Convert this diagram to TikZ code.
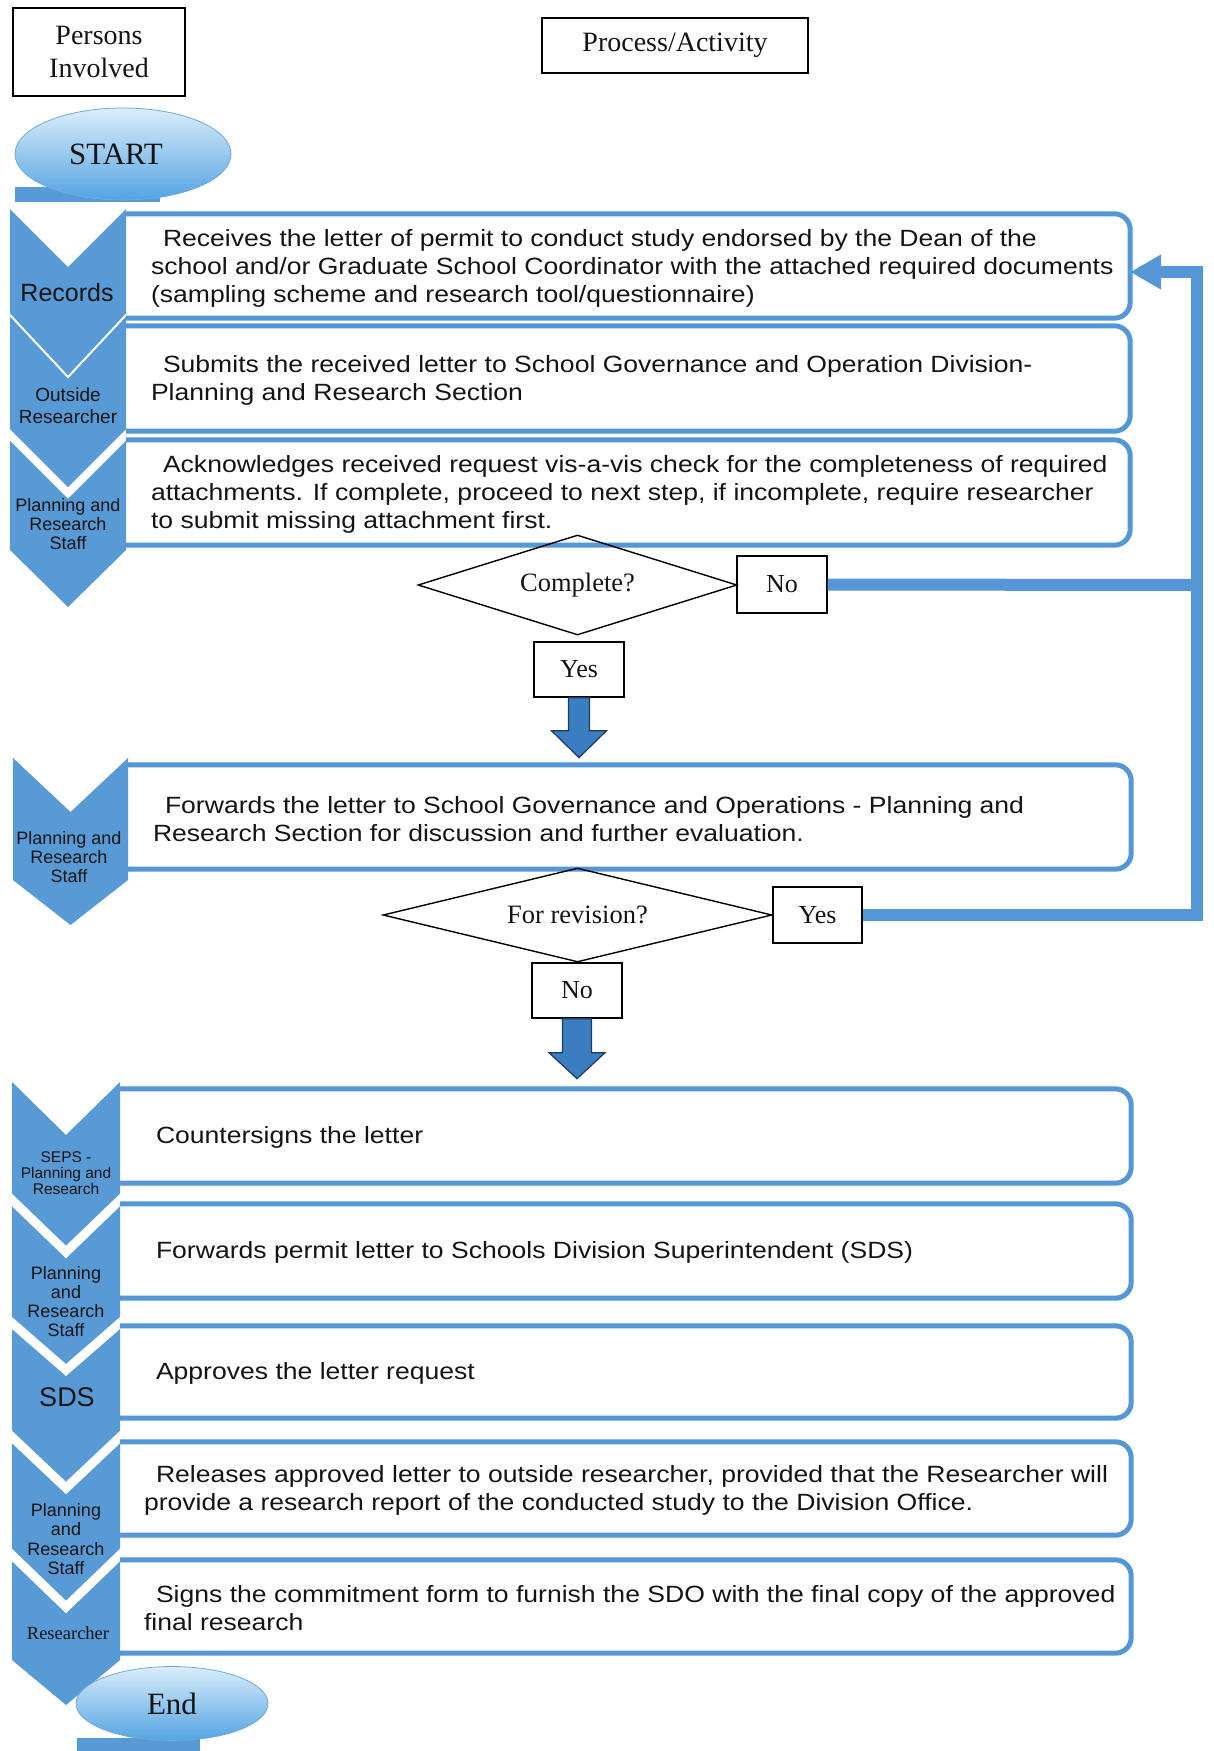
\documentclass[tikz,border=0pt]{standalone}
\usepackage{fontspec}
\setmainfont{Liberation Serif}
\newfontfamily\arialfam{Liberation Sans}
\newfontfamily\arialwide[FakeStretch=1.13]{Liberation Sans}
\usetikzlibrary{shapes.geometric,arrows.meta,calc}
\definecolor{chev}{RGB}{88,154,214}
\definecolor{bline}{RGB}{84,150,214}
\definecolor{barrow}{RGB}{58,125,192}
\definecolor{barrowline}{RGB}{28,58,98}
\definecolor{elltop}{RGB}{218,238,251}
\definecolor{ellbot}{RGB}{84,163,226}
\definecolor{ellline}{RGB}{110,170,220}
\definecolor{txt}{RGB}{20,20,20}
\newcommand{\chevshape}[6]{\fill[chev] (#1,#3) -- ({(#1+#2)/2},{#3+#4}) -- (#2,#3) -- (#2,#5) -- ({(#1+#2)/2},{#5+#6}) -- (#1,#5) -- cycle;}
\newcommand{\chevgap}[5]{\draw[white,line width=#5] ({#1-6},{#3-6*#4/((#2-#1)/2)}) -- ({(#1+#2)/2},{#3+#4}) -- ({#2+6},{#3-6*#4/((#2-#1)/2)});}
\newcommand{\blockarrow}[5]{\draw[blockarr] ([xshift=-#2pt]#1) -- ++(0,#3) -- ++({-(#4-#2)},0) -- ++(#4,#5) -- ++(#4,-#5) -- ++({-(#4-#2)},0) -- ++(0,-#3) -- cycle;}
\begin{document}
\begin{tikzpicture}[x=1pt,y=-1pt,
  every node/.style={text=txt},
  pbox/.style={rectangle, inner sep=0pt, draw=none},
  boxline/.style={draw=bline, line width=5pt, rounded corners=16pt},
  btext/.style={font=\arialwide\fontsize{23.5}{28}\selectfont, align=left, inner sep=0pt, anchor=west},
  lab/.style={align=center, inner sep=0pt},
  decision/.style={diamond, draw=black, line width=1.4pt, aspect=3.2, inner sep=0pt, font=\fontsize{26.5}{30}\selectfont},
  ynbox/.style={rectangle, draw=black, line width=1.4pt, inner sep=0pt, font=\fontsize{26}{30}\selectfont},
  blockarr/.style={fill=barrow, draw=barrowline, line width=1.2pt, line join=miter},
  fb/.style={draw=bline, line width=12pt, line join=miter},
  terminal/.style={ellipse, draw=ellline, line width=0.8pt, top color=elltop, bottom color=ellbot, inner sep=0pt, font=\fontsize{31}{34}\selectfont},
  hdr/.style={rectangle, draw=black, line width=1.4pt, inner sep=0pt, align=center, font=\fontsize{28}{33}\selectfont}
]
\fill[white] (0,0) rectangle (1213,1751);
\useasboundingbox (0,0) rectangle (1213,1751);

% bars under terminals
\fill[chev] (15,187) rectangle (160,202);
\fill[chev] (77,1738) rectangle (200,1751);

% chevrons
\chevshape{10}{126}{209}{58}{315}{62}
\chevshape{10}{126}{315}{62}{435}{58}
\chevshape{10}{126}{435}{58}{550}{57}
\chevshape{13}{128}{758}{54}{880}{45}
\chevshape{12}{120}{1082}{53}{1200}{52}
\chevshape{12}{120}{1200}{52}{1323}{47}
\chevshape{12}{120}{1323}{47}{1437}{51}
\chevshape{12}{120}{1437}{51}{1555}{52}
\chevshape{12}{120}{1555}{52}{1660}{45}
\chevgap{10}{126}{315}{62}{2}
\chevgap{10}{126}{435}{58}{8}
\chevgap{12}{120}{1200}{52}{9}
\chevgap{12}{120}{1323}{47}{9}
\chevgap{12}{120}{1437}{51}{9}
\chevgap{12}{120}{1555}{52}{9}

% process boxes
\node[pbox, minimum width=1004pt, minimum height=104pt] (b1) at (628,266) {};
\node[pbox, minimum width=1004pt, minimum height=105pt] (b2) at (628,378.5) {};
\node[pbox, minimum width=1004pt, minimum height=105pt] (b3) at (628,492.5) {};
\node[pbox, minimum width=1003pt, minimum height=104pt] (b4) at (629.5,817) {};
\node[pbox, minimum width=1011pt, minimum height=94pt] (b5) at (625.5,1136) {};
\node[pbox, minimum width=1011pt, minimum height=94pt] (b6) at (625.5,1251) {};
\node[pbox, minimum width=1011pt, minimum height=92pt] (b7) at (625.5,1372) {};
\node[pbox, minimum width=1011pt, minimum height=93pt] (b8) at (625.5,1488.5) {};
\node[pbox, minimum width=1011pt, minimum height=93pt] (b9) at (625.5,1606.5) {};
\foreach \b in {b1,b2,b3,b4,b5,b6,b7,b8,b9}{
  \draw[boxline] (\b.south west) -- (\b.south east) -- (\b.north east) -- (\b.north west);
}

\node[btext] (t1) at ([xshift=25pt,yshift=-2pt]b1.west) {\hspace*{12pt}Receives the letter of permit to conduct study endorsed by the Dean of the\\school and/or Graduate School Coordinator with the attached required documents\\(sampling scheme and research tool/questionnaire)};
\node[btext] (t2) at ([xshift=25pt,yshift=-2pt]b2.west) {\hspace*{12pt}Submits the received letter to School Governance and Operation Division-\\Planning and Research Section};
\node[btext] (t3) at ([xshift=25pt,yshift=-2pt]b3.west) {\hspace*{12pt}Acknowledges received request vis-a-vis check for the completeness of required\\attachments. If complete, proceed to next step, if incomplete, require researcher\\to submit missing attachment first.};
\node[btext] (t4) at ([xshift=25pt,yshift=-2pt]b4.west) {\hspace*{12pt}Forwards the letter to School Governance and Operations - Planning and\\Research Section for discussion and further evaluation.};
\node[btext] (t5) at ([xshift=24pt,yshift=-1pt]b5.west) {\hspace*{12pt}Countersigns the letter};
\node[btext] (t6) at ([xshift=24pt,yshift=-1pt]b6.west) {\hspace*{12pt}Forwards permit letter to Schools Division Superintendent (SDS)};
\node[btext] (t7) at ([xshift=24pt,yshift=-1pt]b7.west) {\hspace*{12pt}Approves the letter request};
\node[btext] (t8) at ([xshift=24pt,yshift=-2pt]b8.west) {\hspace*{12pt}Releases approved letter to outside researcher, provided that the Researcher will\\provide a research report of the conducted study to the Division Office.};
\node[btext] (t9) at ([xshift=24pt,yshift=-2pt]b9.west) {\hspace*{12pt}Signs the commitment form to furnish the SDO with the final copy of the approved\\final research};

% persons labels
\node[lab, font=\arialfam\fontsize{25}{28}\selectfont] (p1) at (67,293) {Records};
\node[lab, font=\arialfam\fontsize{19}{22}\selectfont] (p2) at (68,406) {Outside\\Researcher};
\node[lab, font=\arialfam\fontsize{18}{19}\selectfont] (p3) at (68,524) {Planning and\\Research\\Staff};
\node[lab, font=\arialfam\fontsize{18}{19}\selectfont] (p4) at (69,857) {Planning and\\Research\\Staff};
\node[lab, font=\arialfam\fontsize{15.5}{16}\selectfont] (p5) at (66,1173) {SEPS -\\Planning and\\Research};
\node[lab, font=\arialfam\fontsize{18}{19}\selectfont] (p6) at (66,1302) {Planning\\and\\Research\\Staff};
\node[lab, font=\arialfam\fontsize{27}{30}\selectfont] (p7) at (67,1397) {SDS};
\node[lab, font=\arialfam\fontsize{18}{19.5}\selectfont] (p8) at (66,1539) {Planning\\and\\Research\\Staff};
\node[lab, font=\fontsize{18.5}{21}\selectfont] (p9) at (68,1633) {Researcher};

% decisions
\node[decision, minimum width=319pt, minimum height=100pt] (d1) at (577.5,585) {Complete?};
\node[ynbox, minimum width=90pt, minimum height=57pt] (no1) at (782,584.5) {No};
\node[ynbox, minimum width=90pt, minimum height=55pt] (yes1) at (579,669.5) {Yes};
\node[decision, minimum width=389pt, minimum height=94pt] (d2) at (577.5,915) {For revision?};
\node[ynbox, minimum width=89pt, minimum height=56pt] (yes2) at (817.5,915) {Yes};
\node[ynbox, minimum width=90pt, minimum height=55pt] (no2) at (577,990.5) {No};

\blockarrow{yes1.south}{10.5}{33}{27.5}{27}
\blockarrow{no2.south}{14.5}{34}{28}{26}

% feedback connector
\coordinate (fbTop) at (1197,272);
\coordinate (fbMid) at (1197,585);
\coordinate (fbBot) at (1197,915);
\draw[fb, -{Triangle[length=31pt,width=33pt]}] (yes2.east) -- (fbBot) -- (fbTop) -- (fbTop -| b1.east);
\draw[fb] (no1.east) -- (fbMid);

% terminals
\node[terminal, minimum width=216pt, minimum height=92pt] (start) at (123,154) {START\hspace*{14pt}};
\node[terminal, minimum width=192pt, minimum height=74pt] (end) at (172,1703.5) {End};

% headers
\node[hdr, minimum width=172pt, minimum height=88pt] (persons) at (99,52) {Persons\\Involved};
\node[hdr, minimum width=266pt, minimum height=55pt] (process) at (675,45.5) {Process/Activity};
\end{tikzpicture}
\end{document}
